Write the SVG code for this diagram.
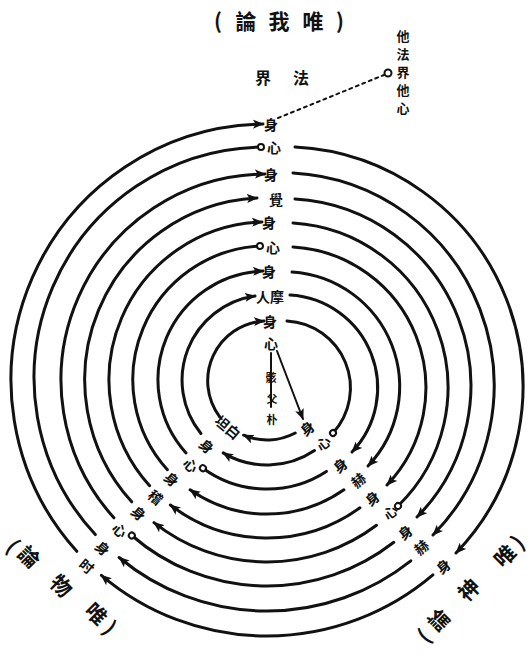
<svg xmlns="http://www.w3.org/2000/svg" width="532" height="654" viewBox="0 0 532 654">
<style>
.c{fill:none;stroke:#111;stroke-width:3;stroke-linecap:round}
.th{fill:none;stroke:#111;stroke-width:2;stroke-linecap:round}
.a{marker-end:url(#ah)}
.o{marker-end:url(#oc)}
text{font-family:"Noto Sans CJK TC","Noto Sans CJK JP",sans-serif;fill:#111;text-anchor:middle;dominant-baseline:central;font-weight:700}
.t{font-size:21px}
.m{font-size:16px}
.l{font-size:14px}
.v{font-size:13px}
.s{font-size:11px}
</style>
<defs>
<marker id="ah" markerUnits="userSpaceOnUse" markerWidth="12" markerHeight="10" refX="10" refY="5" orient="auto" viewBox="0 0 12 10"><path d="M0,0.5 L11,5 L0,9.5 L2.5,5 z" fill="#111"/></marker>
<marker id="oc" markerUnits="userSpaceOnUse" markerWidth="10" markerHeight="10" refX="5" refY="5" orient="auto" viewBox="0 0 10 10"><circle cx="5" cy="5" r="3" fill="#fff" stroke="#111" stroke-width="2"/></marker>
</defs>
<rect width="532" height="654" fill="#fff"/>

<g id="connectors">
<!-- left arcs -->
<path class="c a" d="M76.8,551.3 A256,256 0 0 1 263,124"/>
<path class="c o" d="M95.3,534.6 A231,231 0 0 1 261,147"/>
<path class="c a" d="M113.9,517.8 A206,206 0 0 1 265,174"/>
<path class="c a" d="M131.7,501.8 A182,182 0 0 1 257,198"/>
<path class="c a" d="M149.6,485.7 A158,158 0 0 1 262,222"/>
<path class="c o" d="M167.4,469.7 A134,134 0 0 1 260,246"/>
<path class="c a" d="M186,452.9 A109,109 0 0 1 263,271"/>
<path class="c a" d="M200.9,433.5 A85,85 0 0 1 255,296"/>
<path class="c a" d="M219.7,416.9 A60,60 0 0 1 264,321"/>
<!-- right arcs -->
<path class="c a" d="M295,147 A240,240 0 0 1 456,553"/>
<path class="c a" d="M293,173 A213,213 0 0 1 433,535"/>
<path class="c a" d="M295,199 A187,187 0 0 1 417,517"/>
<path class="c o" d="M293,223 A165,165 0 0 1 398,506"/>
<path class="c a" d="M293,247 A141,141 0 0 1 387,485"/>
<path class="c a" d="M292,272 A115,115 0 0 1 368,466"/>
<path class="c a" d="M290,295 A93,93 0 0 1 352,452"/>
<path class="c o" d="M287,321 A67,67 0 0 1 333,433"/>
<!-- bottom arcs -->
<path class="c a" d="M432.9,574.9 A256,256 0 0 1 101.4,575.3"/>
<path class="c a" d="M410.8,560.8 A231,231 0 0 1 119.1,557.5"/>
<path class="c o" d="M393.8,542.3 A206,206 0 0 1 131.8,535.5"/>
<path class="c a" d="M376.5,525.3 A182,182 0 0 1 154,522.6"/>
<path class="c a" d="M359.9,507.8 A158,158 0 0 1 170.4,505"/>
<path class="c a" d="M343.9,489.8 A134,134 0 0 1 190.1,489.8"/>
<path class="c o" d="M326.4,471.4 A109,109 0 0 1 202.9,468.2"/>
<path class="c a" d="M314.5,450.5 A85,85 0 0 1 223.2,452.9"/>
<path class="c a" d="M295.2,433 A60,60 0 0 1 243.6,435.2"/>
<!-- inner spokes -->
<path class="th" d="M271,353 L271,407"/>
<path class="th a" d="M277,351 L303,419"/>
<!-- dotted link -->
<path class="th" stroke-dasharray="3 4" d="M278,118 L384,75"/>
<circle cx="388" cy="73" r="3.5" fill="#fff" stroke="#111" stroke-width="2"/>
</g>

<g id="title-top"><text class="t" x="218 246 279 313 340" y="20">(論我唯)</text></g>
<g id="hokkai"><text class="m" x="263 301" y="77">界法</text></g>
<g id="tashin"><text class="v" x="403" y="35">他</text><text class="v" x="403" y="53">法</text><text class="v" x="403" y="71">界</text><text class="v" x="403" y="89">他</text><text class="v" x="403" y="107">心</text></g>

<g id="top-labels">
<text class="l" x="271" y="124">身</text>
<text class="l" x="274" y="147">心</text>
<text class="l" x="271" y="174">身</text>
<text class="l" x="276" y="199">覺</text>
<text class="l" x="269" y="222">身</text>
<text class="l" x="273" y="247">心</text>
<text class="l" x="269" y="271">身</text>
<text class="l" x="270" y="296">人摩</text>
<text class="l" x="270" y="321">身</text>
<text class="l" x="271" y="343">心</text>
</g>
<g id="inner-column">
<text class="s" x="271" y="377">骸</text>
<text class="s" x="272" y="398">父</text>
<text class="s" x="272" y="419">朴</text>
</g>

<g id="lr-labels">
<text class="l" transform="translate(307,428) rotate(-40)">身</text>
<text class="l" transform="translate(323,443) rotate(-40)">心</text>
<text class="l" transform="translate(340,465) rotate(-40)">身</text>
<text class="l" transform="translate(358,480) rotate(-40)">赫</text>
<text class="l" transform="translate(372,498) rotate(-40)">身</text>
<text class="l" transform="translate(390,512) rotate(-40)">心</text>
<text class="l" transform="translate(405,532) rotate(-40)">身</text>
<text class="l" transform="translate(421,547) rotate(-40)">赫</text>
<text class="l" transform="translate(443,566) rotate(-40)">身</text>
</g>

<g id="ll-labels">
<text class="l" transform="translate(228,427) rotate(40)">坦白</text>
<text class="l" transform="translate(207,446) rotate(40)">身</text>
<text class="l" transform="translate(191,465) rotate(40)">心</text>
<text class="l" transform="translate(172,479) rotate(40)">身</text>
<text class="l" transform="translate(156,497) rotate(40)">稽</text>
<text class="l" transform="translate(139,513) rotate(40)">身</text>
<text class="l" transform="translate(120,530) rotate(40)">心</text>
<text class="l" transform="translate(103,548) rotate(40)">身</text>
<text class="l" transform="translate(87,566) rotate(40)">时</text>
</g>

<g id="title-ll">
<text class="t" transform="translate(14,545) rotate(45)">(</text>
<text class="t" transform="translate(30,556) rotate(45)">論</text>
<text class="t" transform="translate(62,585) rotate(45)">物</text>
<text class="t" transform="translate(97,613) rotate(45)">唯</text>
<text class="t" transform="translate(111,627) rotate(45)">)</text>
</g>
<g id="title-lr">
<text class="t" transform="translate(423,635) rotate(-45)">(</text>
<text class="t" transform="translate(438,619) rotate(-45)">論</text>
<text class="t" transform="translate(468,589) rotate(-45)">神</text>
<text class="t" transform="translate(504,555) rotate(-45)">唯</text>
<text class="t" transform="translate(517,541) rotate(-45)">)</text>
</g>
</svg>
